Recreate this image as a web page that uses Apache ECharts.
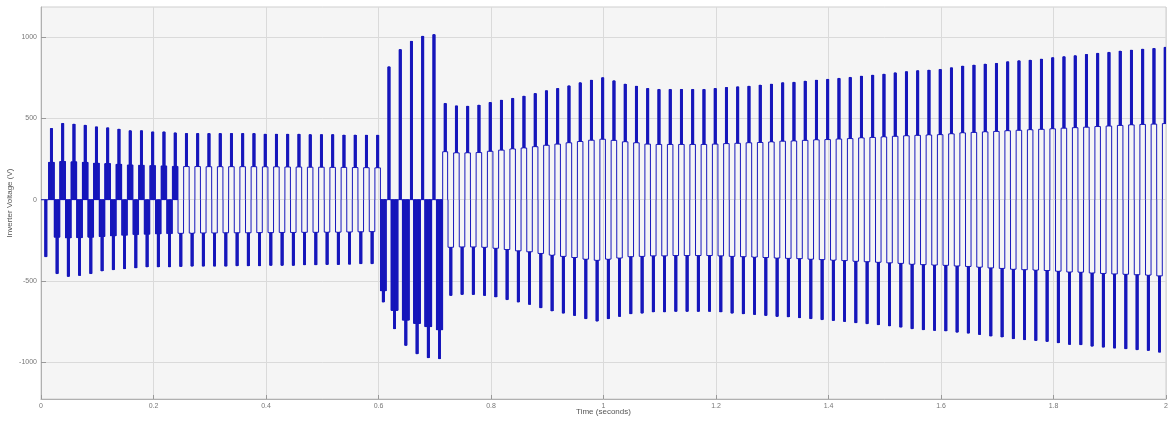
<!DOCTYPE html>
<html>
<head>
<meta charset="utf-8">
<script src="https://cdn.jsdelivr.net/npm/echarts@6/dist/echarts.min.js"></script>
<style>
  html, body { margin: 0; padding: 0; background: #ffffff; }
  #chart { width: 1172px; height: 422px; }
</style>
</head>
<body>
<div id="chart"></div>
<script>
// Inverter output voltage, 50 Hz, 100 cycles over 2 s.
// Each cycle k has a negative half centred at NEG_T0 + k*PERIOD and
// a positive half centred at POS_T0 + k*PERIOD.
const PERIOD = 0.02;
const NEG_T0 = 0.0085;
const POS_T0 = 0.0185;

// Peak (outer level) of each positive half-cycle, V
const posOuter = [
  438, 469, 465, 458, 448, 442, 434, 424, 424, 417,
  417, 411, 407, 407, 407, 407, 407, 407, 407, 403,
  403, 403, 403, 400, 400, 400, 398, 398, 397, 397,
  817, 923, 974, 1005, 1015,
  592, 577, 575, 582, 598, 612, 623, 637, 653, 670,
  684, 700, 719, 735, 750, 731, 711, 698, 684, 678,
  678, 678, 678, 678, 684, 690, 694, 698, 705, 711,
  719, 722, 729, 735, 740, 746, 752, 760, 766, 772,
  780, 787, 793, 797, 801, 811, 822, 828, 834, 838,
  848, 854, 858, 865, 873, 879, 885, 893, 900, 906,
  914, 920, 926, 930, 937
];

// Intermediate step level of each positive half-cycle, V
const posInner = [
  230, 235, 233, 230, 225, 222, 218, 214, 212, 210,
  208, 205, 204, 204, 203, 203, 203, 203, 203, 202,
  202, 201, 201, 200, 200, 199, 199, 198, 197, 196,
  0, 0, 0, 0, 0,
  295, 288, 288, 290, 298, 305, 312, 318, 326, 335,
  342, 350, 358, 366, 372, 365, 356, 350, 342, 340,
  340, 340, 340, 340, 342, 345, 347, 350, 352, 355,
  360, 361, 365, 368, 370, 373, 376, 380, 383, 386,
  390, 393, 396, 398, 400, 405, 411, 414, 417, 420,
  424, 427, 430, 433, 436, 440, 443, 446, 450, 453,
  457, 460, 463, 465, 468
];

// Peak (outer level) of each negative half-cycle, V
const negOuter = [
  -350, -454, -471, -465, -454, -438, -430, -424, -419, -413,
  -413, -413, -410, -408, -408, -408, -408, -406, -406, -406,
  -403, -403, -403, -400, -400, -398, -398, -396, -393, -393,
  -629, -793, -895, -947, -971, -977,
  -588, -582, -582, -588, -598, -614, -629, -643, -664, -684,
  -697, -711, -731, -746, -731, -717, -701, -697, -690, -690,
  -686, -686, -686, -686, -690, -697, -701, -705, -711, -717,
  -720, -725, -731, -737, -742, -748, -756, -762, -768, -776,
  -783, -793, -799, -803, -807, -814, -820, -828, -838, -844,
  -854, -860, -865, -871, -879, -889, -891, -900, -906, -912,
  -916, -922, -926, -937
];

// Intermediate step level of each negative half-cycle, V
const negInner = [
  0, -230, -235, -233, -230, -226, -222, -218, -214, -212,
  -210, -208, -206, -205, -204, -204, -203, -203, -203, -202,
  -202, -201, -201, -200, -200, -199, -199, -198, -197, -196,
  -560, -680, -740, -760, -780, -800,
  -292, -290, -290, -292, -298, -306, -314, -320, -330, -340,
  -348, -355, -365, -372, -365, -358, -350, -348, -345, -345,
  -343, -343, -343, -343, -345, -348, -350, -352, -355, -358,
  -360, -362, -365, -368, -371, -374, -378, -381, -384, -388,
  -391, -396, -399, -401, -403, -407, -410, -414, -419, -422,
  -427, -430, -432, -435, -439, -444, -445, -450, -453, -456,
  -458, -461, -463, -468
];

// Switching pulses inside the intermediate step of each half-cycle
const posChops = [
  6, 6, 6, 6, 6, 6, 6, 3, 3, 3, 3, 3, 0, 0, 0, 0, 0, 0, 0, 0,
  0, 0, 0, 0, 0, 0, 0, 0, 0, 0, 0, 0, 0, 0, 0, 0, 0, 0, 0, 0,
  0, 0, 0, 0, 0, 0, 0, 0, 0, 0, 0, 0, 0, 0, 0, 0, 0, 0, 0, 0,
  0, 0, 0, 0, 0, 0, 0, 0, 0, 0, 0, 0, 0, 0, 0, 0, 0, 0, 0, 0,
  0, 0, 0, 0, 0, 0, 0, 0, 0, 0, 0, 0, 0, 0, 0, 0, 0, 0, 0, 0
];
const negChops = [
  0, 6, 6, 6, 6, 6, 6, 3, 3, 3, 3, 3, 0, 0, 0, 0, 0, 0, 0, 0,
  0, 0, 0, 0, 0, 0, 0, 0, 0, 0, 8, 8, 8, 8, 8, 8, 0, 0, 0, 0,
  0, 0, 0, 0, 0, 0, 0, 0, 0, 0, 0, 0, 0, 0, 0, 0, 0, 0, 0, 0,
  0, 0, 0, 0, 0, 0, 0, 0, 0, 0, 0, 0, 0, 0, 0, 0, 0, 0, 0, 0,
  0, 0, 0, 0, 0, 0, 0, 0, 0, 0, 0, 0, 0, 0, 0, 0, 0, 0, 0, 0
];

// Half-width of each half-cycle's conduction interval, ms
const posDwell = [
  4.9, 4.9, 4.9, 4.9, 4.9, 4.9, 4.9, 4.9, 4.9, 4.9, 4.9, 4.9, 4.9, 4.9, 4.9, 4.9, 4.9, 4.9, 4.9, 4.9,
  4.9, 4.9, 4.9, 4.9, 4.9, 4.9, 4.9, 4.9, 4.9, 4.9, 3.5, 3.5, 3.5, 3.5, 3.5, 4.4, 4.9, 4.9, 4.9, 4.9,
  4.9, 4.9, 4.9, 4.9, 4.9, 4.9, 4.9, 4.9, 4.9, 4.9, 4.9, 4.9, 4.9, 4.9, 4.9, 4.9, 4.9, 4.9, 4.9, 4.9,
  4.9, 4.9, 4.9, 4.9, 4.9, 4.9, 4.9, 4.9, 4.9, 4.9, 4.9, 4.9, 4.9, 4.9, 4.9, 4.9, 4.9, 4.9, 4.9, 4.9,
  4.9, 4.9, 4.9, 4.9, 4.9, 4.9, 4.9, 4.9, 4.9, 4.9, 4.9, 4.9, 4.9, 4.9, 4.9, 4.9, 4.9, 4.9, 4.9, 4.9
];
const negDwell = [
  4.9, 4.9, 4.9, 4.9, 4.9, 4.9, 4.9, 4.9, 4.9, 4.9, 4.9, 4.9, 4.9, 4.9, 4.9, 4.9, 4.9, 4.9, 4.9, 4.9,
  4.9, 4.9, 4.9, 4.9, 4.9, 4.9, 4.9, 4.9, 4.9, 4.9, 5.0, 6, 6, 6, 6, 5.5, 4.9, 4.9, 4.9, 4.9,
  4.9, 4.9, 4.9, 4.9, 4.9, 4.9, 4.9, 4.9, 4.9, 4.9, 4.9, 4.9, 4.9, 4.9, 4.9, 4.9, 4.9, 4.9, 4.9, 4.9,
  4.9, 4.9, 4.9, 4.9, 4.9, 4.9, 4.9, 4.9, 4.9, 4.9, 4.9, 4.9, 4.9, 4.9, 4.9, 4.9, 4.9, 4.9, 4.9, 4.9,
  4.9, 4.9, 4.9, 4.9, 4.9, 4.9, 4.9, 4.9, 4.9, 4.9, 4.9, 4.9, 4.9, 4.9, 4.9, 4.9, 4.9, 4.9, 4.9, 4.9
];

// Outer-level pulse: half-width (s) and number of switchings inside it
const PULSE_HALF = 0.0017;
const PULSE_CHOPS = 5;

// Axis ticks
const timeTicks = [0, 0.2, 0.4, 0.6, 0.8, 1, 1.2, 1.4, 1.6, 1.8, 2];
const voltTicks = [-1000, -500, 0, 500, 1000];

// Build the stepped waveform of one half-cycle
function halfCycle(pts, c, inner, outer, chops, dwellMs) {
  const w = dwellMs / 1000;
  const p = PULSE_HALF;
  pts.push([c - w, 0]);
  if (chops > 0) {
    const seg = (w - p) / chops;
    for (let j = 0; j < chops; j++) {
      const a = c - w + j * seg;
      pts.push([a, 0], [a, inner], [a + seg * 0.6, inner], [a + seg * 0.6, 0]);
    }
  } else {
    pts.push([c - w, inner]);
  }
  // outer-level pulse, switched between the step level and the peak
  const base = chops > 0 ? 0 : inner;
  const ps = (2 * p) / PULSE_CHOPS;
  pts.push([c - p, base]);
  for (let j = 0; j < PULSE_CHOPS; j++) {
    const a = c - p + j * ps;
    pts.push([a, base], [a, outer], [a + ps * 0.6, outer], [a + ps * 0.6, base]);
  }
  pts.push([c + p, base], [c + p, outer], [c + p, base]);
  if (chops > 0) {
    const seg = (w - p) / chops;
    for (let j = 0; j < chops; j++) {
      const a = c + p + j * seg;
      pts.push([a + seg * 0.4, 0], [a + seg * 0.4, inner], [a + seg, inner], [a + seg, 0]);
    }
  } else {
    pts.push([c + w, inner], [c + w, 0]);
  }
}

const wave = [[0, 0]];
for (let k = 0; k < posOuter.length; k++) {
  halfCycle(wave, NEG_T0 + k * PERIOD, negInner[k], negOuter[k], negChops[k], negDwell[k]);
  halfCycle(wave, POS_T0 + k * PERIOD, posInner[k], posOuter[k], posChops[k], posDwell[k]);
}

// The trace is stroked as one exact polyline so every switching step stays sharp
function renderTrace(params, api) {
  const pts = wave.map(p => api.coord(p));
  return {
    type: 'polyline',
    shape: { points: pts },
    style: { stroke: '#1818bc', lineWidth: 1, fill: null }
  };
}

const FONT = 'Liberation Sans, Arial, sans-serif';
const chart = echarts.init(document.getElementById('chart'), null, { renderer: 'canvas' });
chart.setOption({
  animation: false,
  backgroundColor: '#ffffff',
  grid: {
    left: 41, top: 7, width: 1125, height: 392,
    outerBoundsMode: 'none',
    containLabel: false,
    show: true, backgroundColor: '#f5f5f5', borderColor: '#cfcfcf', borderWidth: 1
  },
  xAxis: {
    type: 'value',
    min: timeTicks[0],
    max: timeTicks[timeTicks.length - 1],
    interval: 0.2,
    name: 'Time (seconds)',
    nameLocation: 'middle',
    nameGap: 9,
    nameMoveOverlap: false,
    nameTextStyle: { fontFamily: FONT, fontSize: 8, color: '#555' },
    axisLine: { onZero: false, lineStyle: { color: '#b0b0b0' } },
    axisTick: { inside: true, length: 4, lineStyle: { color: '#999' } },
    axisLabel: { fontFamily: FONT, fontSize: 7, color: '#777', margin: 4 },
    splitLine: { show: true, lineStyle: { color: '#dadada', width: 1 } }
  },
  yAxis: {
    type: 'value',
    min: -1225,
    max: 1185,
    splitNumber: 5,
    name: 'Inverter Voltage (V)',
    nameLocation: 'middle',
    nameRotate: 90,
    nameGap: 27,
    nameMoveOverlap: false,
    nameTextStyle: { fontFamily: FONT, fontSize: 8, color: '#555' },
    axisLine: { show: true, lineStyle: { color: '#b0b0b0' } },
    axisTick: { show: true, inside: true, length: 5, lineStyle: { color: '#999' },
                customValues: voltTicks },
    axisLabel: {
      fontFamily: FONT, fontSize: 7, color: '#777', margin: 4,
      customValues: voltTicks,
      formatter: v => String(v)
    },
    splitLine: { show: true, lineStyle: { color: '#dadada', width: 1 } }
  },
  series: [{
    type: 'custom',
    coordinateSystem: 'cartesian2d',
    data: [[timeTicks[0], 0]],
    renderItem: renderTrace,
    clip: true,
    silent: true
  }]
});
</script>
</body>
</html>
